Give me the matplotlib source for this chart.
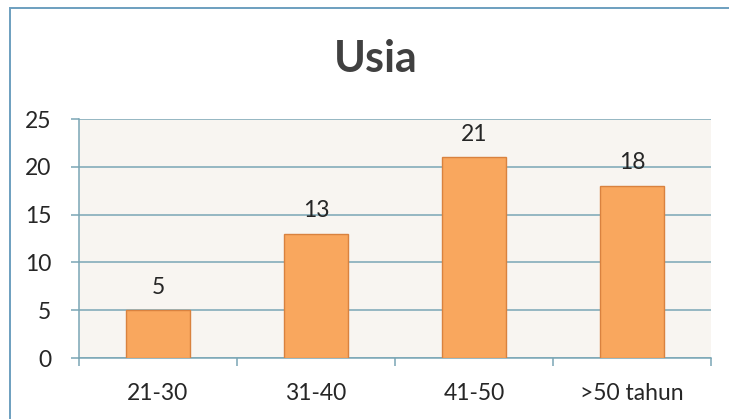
import matplotlib
matplotlib.use("Agg")
import matplotlib.pyplot as plt
from matplotlib.patches import Rectangle
import numpy as np

categories = ["21-30", "31-40", "41-50", ">50 tahun"]
values = [5, 13, 21, 18]
yticks = [0, 5, 10, 15, 20, 25]
title = "Usia"

plt.rcParams["font.family"] = ["Lato", "DejaVu Sans"]

W, H = 729, 419
fig = plt.figure(figsize=(W / 100, H / 100), dpi=100)
fig.patch.set_facecolor("white")

# chart frame
fig.patches.append(Rectangle((10 / W, -0.2), 1.2, (H - 8) / H + 0.2,
                             transform=fig.transFigure, fill=False,
                             edgecolor="#6c9fbf", linewidth=1.4))

left, right, top, bottom = 79, 711, 119, 358
ax = fig.add_axes([left / W, 1 - bottom / H, (right - left) / W, (bottom - top) / H])
ax.set_facecolor("#f8f5f1")

x = np.arange(len(categories))
ax.bar(x, values, width=0.4, color="#f9a75e", edgecolor="#d9823f", linewidth=1.0, zorder=3)
for xi, v in zip(x, values):
    ax.annotate(str(v), (xi, v), xytext=(0, 9), textcoords="offset points",
                ha="center", va="bottom", fontsize=16.5, color="#262626")

ax.set_xlim(-0.5, len(categories) - 0.5)
ax.set_ylim(0, 25)
ax.set_yticks(yticks)
ax.set_yticklabels([str(t) for t in yticks])
ax.yaxis.grid(True, color="#7aa6b5", linewidth=1.1, zorder=0)
ax.set_axisbelow(True)

ax.set_xticks(x)
ax.set_xticklabels(categories)
ax.set_xticks(np.arange(len(categories) + 1) - 0.5, minor=True)
ax.tick_params(axis="x", which="major", length=0, pad=18, labelsize=16.5, labelcolor="#262626")
ax.tick_params(axis="x", which="minor", length=6, color="#7aa6b5", width=1.1)
ax.tick_params(axis="y", length=6, color="#7aa6b5", width=1.1, pad=14,
               labelsize=16.5, labelcolor="#262626")

for side in ["top", "right"]:
    ax.spines[side].set_visible(False)
for side in ["left", "bottom"]:
    ax.spines[side].set_color("#7aa6b5")
    ax.spines[side].set_linewidth(1.1)

fig.text(376 / W, 1 - 72 / H, title, ha="center", va="baseline",
         fontsize=31, fontweight="bold", color="#404040")

fig.savefig("out.png", dpi=100)
